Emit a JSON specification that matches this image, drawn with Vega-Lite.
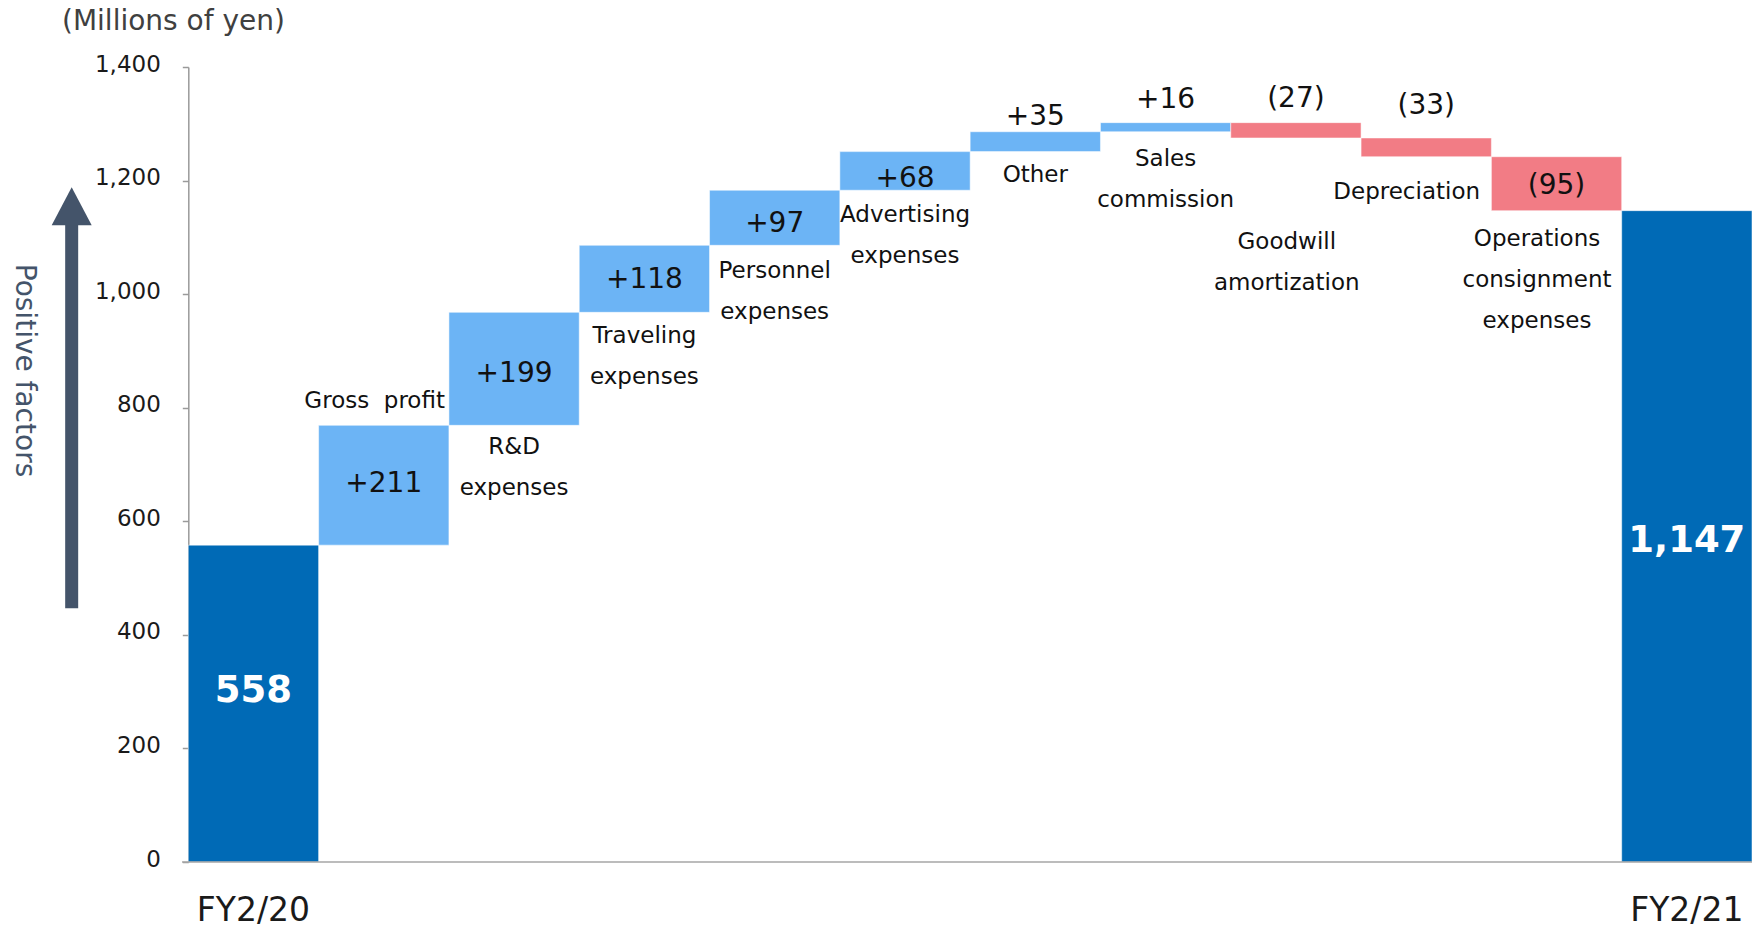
{
  "$schema": "https://vega.github.io/schema/vega-lite/v6.json",
  "width": 1694,
  "height": 795,
  "autosize": {"type": "none"},
  "padding": {"left": 58, "top": 67, "right": 6, "bottom": 66},
  "title": {"text": "(Millions of yen)", "anchor": "start", "frame": "group", "dx": 4, "offset": -11, "fontSize": 28, "font": "DejaVu Sans", "fontWeight": "normal", "color": "#404040", "baseline": "bottom"},
  "config": {"view": {"stroke": null}, "font": "DejaVu Sans"},
  "datasets": {
    "steps": [
      {"step": "FY2/20", "type": "total", "start": 0, "end": 558, "lab": "558", "ly": 282},
      {"step": "Gross profit", "type": "increase", "start": 558, "end": 769, "lab": "+211", "ly": 651, "lines": ["Gross\u00a0 profit"], "cy": 799},
      {"step": "R&D expenses", "type": "increase", "start": 769, "end": 968, "lab": "+199", "ly": 846, "lines": ["R&D", "expenses"], "cy": 718},
      {"step": "Traveling expenses", "type": "increase", "start": 968, "end": 1086, "lab": "+118", "ly": 1010, "lines": ["Traveling", "expenses"], "cy": 914},
      {"step": "Personnel expenses", "type": "increase", "start": 1086, "end": 1183, "lab": "+97", "ly": 1110, "lines": ["Personnel", "expenses"], "cy": 1028},
      {"step": "Advertising expenses", "type": "increase", "start": 1183, "end": 1251, "lab": "+68", "ly": 1188, "lines": ["Advertising", "expenses"], "cy": 1127},
      {"step": "Other", "type": "increase", "start": 1251, "end": 1286, "lab": "+35", "ly": 1298, "lines": ["Other"], "cy": 1198},
      {"step": "Sales commission", "type": "increase", "start": 1286, "end": 1302, "lab": "+16", "ly": 1327, "lines": ["Sales", "commission"], "cy": 1225},
      {"step": "Goodwill amortization", "type": "decrease", "start": 1302, "end": 1275, "lab": "(27)", "ly": 1329, "lines": ["Goodwill", "amortization"], "cy": 1079},
      {"step": "Depreciation", "type": "decrease", "start": 1275, "end": 1242, "lab": "(33)", "ly": 1317, "lines": ["Depreciation"], "cy": 1167},
      {"step": "Operations consignment expenses", "type": "decrease", "start": 1242, "end": 1147, "lab": "(95)", "ly": 1177, "lines": ["Operations", "consignment", "expenses"], "cy": 1085},
      {"step": "FY2/21", "type": "total", "start": 0, "end": 1147, "lab": "1,147", "ly": 546}
    ]
  },
  "data": {"name": "steps"},
  "layer": [
    {
      "mark": {"type": "bar", "stroke": "#ffffff", "strokeWidth": 1, "strokeOpacity": 0.5},
      "encoding": {
        "x": {
          "field": "step", "type": "nominal",
          "scale": {"domain": ["_", "FY2/20", "Gross profit", "R&D expenses", "Traveling expenses", "Personnel expenses", "Advertising expenses", "Other", "Sales commission", "Goodwill amortization", "Depreciation", "Operations consignment expenses", "FY2/21"], "paddingInner": 0, "paddingOuter": 0},
          "axis": {"values": ["FY2/20", "FY2/21"], "title": null, "domain": false, "ticks": false, "labelAngle": 0, "labelFontSize": 33, "labelFont": "DejaVu Sans", "labelColor": "#1a1a1a", "labelPadding": 32, "labelBaseline": "top"}
        },
        "y": {
          "field": "start", "type": "quantitative",
          "scale": {"domain": [0, 1400], "nice": false},
          "axis": {"values": [0, 200, 400, 600, 800, 1000, 1200, 1400], "format": ",.0f", "offset": -130.31, "grid": false, "labelFontSize": 23, "labelFont": "DejaVu Sans", "labelColor": "#1a1a1a", "labelPadding": 22, "labelOffset": -3, "tickSize": 6, "tickColor": "#9a9a9a", "domainColor": "#9a9a9a", "domainWidth": 1.5, "tickWidth": 1.5, "titleAngle": 90, "titleX": -164.8, "titleY": 303, "titleAlign": "center", "titleBaseline": "middle", "titleFontSize": 28, "titleFontWeight": "normal", "titleColor": "#44546A", "titleFont": "DejaVu Sans"},
          "title": "Positive factors"
        },
        "y2": {"field": "end"},
        "color": {"field": "type", "type": "nominal", "scale": {"domain": ["total", "increase", "decrease"], "range": ["#006AB6", "#6CB4F5", "#F27C85"]}, "legend": null}
      }
    },
    {
      "data": {"values": [{}]},
      "mark": {"type": "rule", "color": "#A6A6A6", "strokeWidth": 1.5},
      "encoding": {
        "x": {"datum": "_", "type": "nominal", "bandPosition": 0.952},
        "x2": {"datum": "FY2/21", "bandPosition": 1},
        "y": {"datum": 0, "type": "quantitative", "title": "Positive factors"}
      }
    },
    {
      "data": {"values": [{}]},
      "mark": {"type": "rule", "color": "#44546A", "strokeWidth": 13},
      "encoding": {
        "x": {"datum": "_", "type": "nominal", "bandPosition": 0.105},
        "y": {"datum": 447, "type": "quantitative", "title": "Positive factors"},
        "y2": {"datum": 1125}
      }
    },
    {
      "data": {"values": [{}]},
      "mark": {"type": "point", "shape": "M0,-0.95L1,0.95L-1,0.95Z", "filled": true, "size": 1600, "color": "#44546A", "opacity": 1, "strokeWidth": 0},
      "encoding": {
        "x": {"datum": "_", "type": "nominal", "bandPosition": 0.105},
        "y": {"datum": 1155, "type": "quantitative", "title": "Positive factors"}
      }
    },
    {
      "transform": [{"filter": "datum.type !== 'total'"}],
      "mark": {"type": "text", "fontSize": 28, "font": "DejaVu Sans", "baseline": "alphabetic", "align": "center", "color": "#111111"},
      "encoding": {
        "x": {"field": "step", "type": "nominal"},
        "y": {"field": "ly", "type": "quantitative", "title": "Positive factors"},
        "text": {"field": "lab"}
      }
    },
    {
      "transform": [{"filter": "datum.type === 'total'"}],
      "mark": {"type": "text", "fontSize": 37, "fontWeight": "bold", "font": "DejaVu Sans", "baseline": "alphabetic", "align": "center", "color": "#ffffff"},
      "encoding": {
        "x": {"field": "step", "type": "nominal"},
        "y": {"field": "ly", "type": "quantitative", "title": "Positive factors"},
        "text": {"field": "lab"}
      }
    },
    {
      "transform": [{"filter": "datum.type !== 'total' && indexof(['Gross profit', 'Goodwill amortization', 'Depreciation', 'Operations consignment expenses'], datum.step) < 0"}],
      "mark": {"type": "text", "fontSize": 23, "font": "DejaVu Sans", "baseline": "alphabetic", "align": "center", "lineHeight": 41, "color": "#111111"},
      "encoding": {
        "x": {"field": "step", "type": "nominal"},
        "y": {"field": "cy", "type": "quantitative", "title": "Positive factors"},
        "text": {"field": "lines"}
      }
    },
    {
      "transform": [{"filter": "indexof(['Gross profit', 'Goodwill amortization'], datum.step) >= 0"}],
      "mark": {"type": "text", "fontSize": 23, "font": "DejaVu Sans", "baseline": "alphabetic", "align": "center", "lineHeight": 41, "color": "#111111"},
      "encoding": {
        "x": {"field": "step", "type": "nominal", "bandPosition": 0.43},
        "y": {"field": "cy", "type": "quantitative", "title": "Positive factors"},
        "text": {"field": "lines"}
      }
    },
    {
      "transform": [{"filter": "indexof(['Depreciation', 'Operations consignment expenses'], datum.step) >= 0"}],
      "mark": {"type": "text", "fontSize": 23, "font": "DejaVu Sans", "baseline": "alphabetic", "align": "center", "lineHeight": 41, "color": "#111111"},
      "encoding": {
        "x": {"field": "step", "type": "nominal", "bandPosition": 0.35},
        "y": {"field": "cy", "type": "quantitative", "title": "Positive factors"},
        "text": {"field": "lines"}
      }
    }
  ]
}
